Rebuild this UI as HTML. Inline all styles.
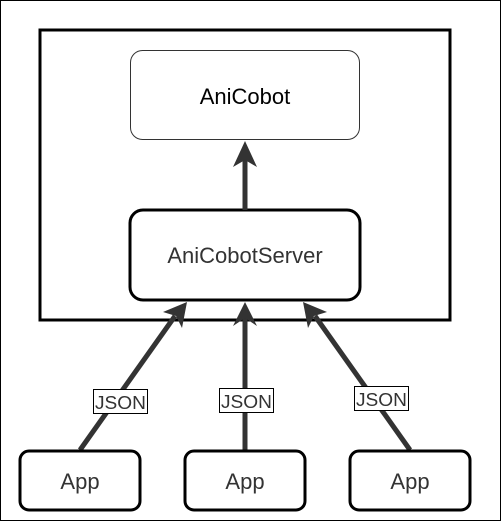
<!DOCTYPE html>
<html><head><style>
body{margin:0;background:#fff}
svg{display:block;font-family:"Liberation Sans",sans-serif}
</style></head><body>
<svg width="501" height="521" viewBox="0 0 501 521">
<rect x="0.5" y="0.5" width="500" height="520" fill="#fff" stroke="#000"/>
<rect x="40" y="30" width="410" height="290" fill="none" stroke="#000" stroke-width="3"/>
<rect x="130.5" y="50.5" width="229" height="89" rx="12" fill="#fff" stroke="#333" stroke-width="1"/>
<text x="245" y="104" font-size="22" text-anchor="middle" fill="#000">AniCobot</text>
<rect x="130" y="210" width="230" height="90" rx="13" fill="#fff" stroke="#000" stroke-width="3"/>
<text x="245" y="263" font-size="22" text-anchor="middle" fill="#333">AniCobotServer</text>
<g stroke="#333" stroke-width="5" fill="#333">
<line x1="245" y1="210" x2="245" y2="160"/>
<line x1="80" y1="450" x2="175" y2="316"/>
<line x1="245" y1="450" x2="245" y2="318"/>
<line x1="410" y1="450" x2="315" y2="316"/>
</g>
<g fill="#333">
<polygon points="245,141 257,167 245,160 233,167"/>
<polygon points="187,302 182,328 176,316 163,312"/>
<polygon points="245,302 257,326 245,318 233,326"/>
<polygon points="303,302 327,312 314,316 308,328"/>
</g>
<g stroke="#000" stroke-width="3" fill="#fff">
<rect x="20" y="451" width="120" height="59" rx="9"/>
<rect x="185" y="451" width="120" height="59" rx="9"/>
<rect x="350" y="451" width="120" height="59" rx="9"/>
</g>
<g font-size="22" text-anchor="middle" fill="#333">
<text x="80" y="489">App</text>
<text x="245" y="489">App</text>
<text x="410" y="489">App</text>
</g>
<g fill="#fff" stroke="#000" stroke-width="1">
<rect x="93.5" y="389.5" width="54" height="24"/>
<rect x="219.5" y="388.5" width="54" height="24"/>
<rect x="354.5" y="386.5" width="54" height="24"/>
</g>
<g font-size="18" text-anchor="middle" fill="#333" textLength="52">
<text x="120.5" y="409" textLength="51" lengthAdjust="spacingAndGlyphs">JSON</text>
<text x="246.5" y="408" textLength="51" lengthAdjust="spacingAndGlyphs">JSON</text>
<text x="381.5" y="406" textLength="51" lengthAdjust="spacingAndGlyphs">JSON</text>
</g>
</svg>
</body></html>
